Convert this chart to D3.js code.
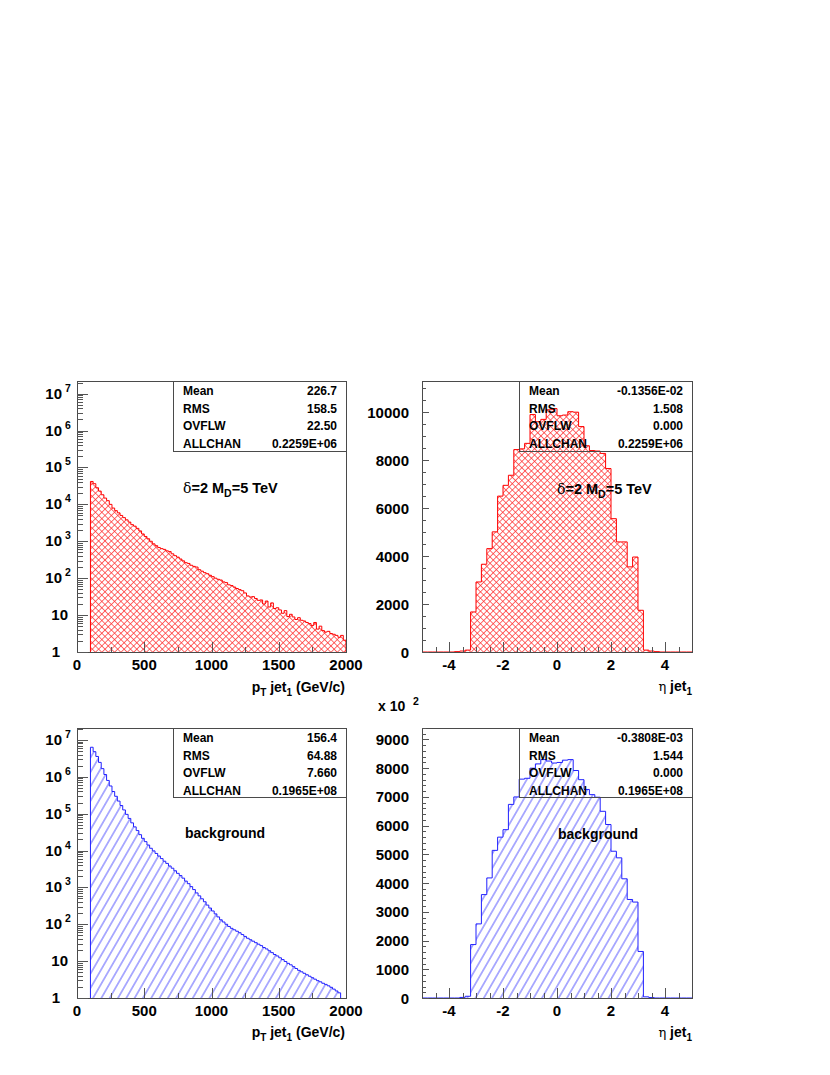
<!DOCTYPE html>
<html><head><meta charset="utf-8">
<script src="https://cdn.jsdelivr.net/npm/d3@7"></script>
<style>
body{margin:0;background:#fff}
text{font-family:"Liberation Sans",Arial,Helvetica,sans-serif;font-weight:bold;fill:#000}
</style>
</head><body>
<svg id="c" width="830" height="1075"></svg>
<script>
// ---------------- DATA ----------------
const ptStart = 100, ptBinWidth = 20;
// signal pT jet1 (delta=2, MD=5 TeV), bins of 20 GeV starting at 100
const sigPt = [41700,36300,28200,22900,18200,14800,12600,10000,7940,6760,
  5890,5010,4370,3800,3310,2820,2570,2240,1910,1580,
  1350,1170,1000,851,759,676,631,603,550,525,
  457,407,372,331,295,263,251,224,209,200,
  170,155,141,132,120,110,100,93.3,89.1,79.4,
  75.9,66.1,63.1,57.5,52.5,49.0,45.7,39.8,33.1,30.9,
  31.6,28.2,25.1,25.7,20.0,24.0,16.6,21.4,15.1,15.8,
  13.8,11.2,13.2,9.12,10.5,8.91,7.59,8.51,7.24,6.92,
  6.31,5.89,5.25,6.31,4.17,5.01,3.80,3.47,3.63,3.16,
  3.02,2.82,2.51,2.82,2.09];
// background pT jet1, bins of 20 GeV starting at 100
const bgPt = [6.31e6,4.79e6,3.55e6,2.45e6,1.66e6,1.15e6,7.94e5,5.62e5,3.98e5,2.95e5,
  2.19e5,1.66e5,1.26e5,9.55e4,7.41e4,5.62e4,4.37e4,3.47e4,2.69e4,2.14e4,
  1.74e4,1.41e4,1.15e4,9770,8320,7080,6030,5130,4470,3800,
  3310,2820,2400,2090,1780,1480,1260,1050,871,708,
  589,490,407,331,275,229,191,158,132,115,
  100,87.1,77.6,70.8,64.6,58.9,52.5,46.8,41.7,38.0,
  34.7,31.6,28.8,26.3,23.4,21.4,19.1,17.0,15.1,13.8,
  12.3,11.0,9.77,8.71,7.94,7.08,6.31,5.62,5.13,4.68,
  4.27,3.89,3.55,3.24,2.95,2.75,2.51,2.34,2.14,1.95,
  1.74,1.55,1.38];
const etaStart = -5, etaBinWidth = 0.2;
// signal eta jet1, 50 bins from -5 to 5
const sigEta = [0,0,0,0,0,0,15,40,80,1670,
  2920,3660,4310,5010,6500,6950,7370,8440,8470,8700,
  9900,9600,9700,10100,10150,9850,9880,10020,10000,9400,
  8600,8400,8380,8280,7650,5560,4590,4590,3550,3960,
  1740,80,40,15,0,0,0,0,0,0];
// background eta jet1, 50 bins from -5 to 5
const bgEta = [0,0,0,0,0,0,0,20,60,1860,
  2580,3600,4180,5140,5600,5860,6740,7000,7620,7650,
  8000,8150,8300,8250,8180,8200,8280,8300,7920,7600,
  7260,7080,6990,6500,6040,5110,4880,4150,3430,3340,
  1620,40,15,0,0,0,0,0,0,0];

const ptTicks = [0,500,1000,1500,2000];
const etaTicks = [-4,-2,0,2,4];
const sigEtaYTicks = [0,2000,4000,6000,8000,10000];
const bgEtaYTicks = [0,1000,2000,3000,4000,5000,6000,7000,8000,9000];
const logDecades = [0,1,2,3,4,5,6,7];

const statNames = ["Mean","RMS","OVFLW","ALLCHAN"];
const sigPtStats = ["226.7","158.5","22.50","0.2259E+06"];
const sigEtaStats = ["-0.1356E-02","1.508","0.000","0.2259E+06"];
const bgPtStats = ["156.4","64.88","7.660","0.1965E+08"];
const bgEtaStats = ["-0.3808E-03","1.544","0.000","0.1965E+08"];

// ---------------- DRAWING ----------------
const svg = d3.select("#c");
const defs = svg.append("defs");
const hs = 4.5;
const xp = defs.append("pattern").attr("id","xhatch").attr("patternUnits","userSpaceOnUse")
  .attr("width",hs).attr("height",hs).attr("patternTransform","rotate(45)");
xp.append("line").attr("x1",hs/2).attr("y1",0).attr("x2",hs/2).attr("y2",hs).attr("stroke","#ff3030").attr("stroke-width",0.7);
xp.append("line").attr("x1",0).attr("y1",hs/2).attr("x2",hs).attr("y2",hs/2).attr("stroke","#ff3030").attr("stroke-width",0.7);
const bp = defs.append("pattern").attr("id","shatch").attr("patternUnits","userSpaceOnUse")
  .attr("width",7.2).attr("height",20).attr("patternTransform","rotate(30)");
bp.append("line").attr("x1",3.6).attr("y1",0).attr("x2",3.6).attr("y2",20).attr("stroke","#3030ff").attr("stroke-width",0.8);

const frameColor = "#4a4a4a";
const labelSize = 15;

function drawHist(g, vals, start, bw, xs, ys, base, fill, stroke){
  const pts = vals.map((v,i)=>[start+i*bw, v]);
  pts.push([start+vals.length*bw, vals[vals.length-1]]);
  const area = d3.area().x(d=>xs(d[0])).y0(base).y1(d=>ys(d[1])).curve(d3.curveStepAfter);
  g.append("path").attr("d", area(pts)).attr("fill", fill).attr("stroke","none");
  const line = d3.line().x(d=>xs(d[0])).y(d=>ys(d[1])).curve(d3.curveStepAfter);
  const d = "M"+xs(start)+","+base+"L"+line(pts).slice(1)+"L"+xs(start+vals.length*bw)+","+base;
  g.append("path").attr("d", d).attr("fill","none").attr("stroke",stroke).attr("stroke-width",1);
}

function drawFrame(f){
  svg.append("rect").attr("x",f.x0+0.5).attr("y",f.y0+0.5).attr("width",f.x1-f.x0).attr("height",f.y1-f.y0)
    .attr("fill","none").attr("stroke",frameColor).attr("stroke-width",1);
}

function tick(x1,y1,x2,y2){
  svg.append("line").attr("x1",x1).attr("y1",y1).attr("x2",x2).attr("y2",y2)
    .attr("stroke","#555").attr("stroke-width",1);
}

function statsBox(f, bx0, by1, values){
  svg.append("rect").attr("x",bx0+0.5).attr("y",f.y0+0.5).attr("width",f.x1-bx0).attr("height",by1-f.y0)
    .attr("fill","none").attr("stroke",frameColor).attr("stroke-width",1);
  statNames.forEach((n,i)=>{
    const y = f.y0+14+i*17.5;
    svg.append("text").attr("x",bx0+10).attr("y",y).attr("font-size",12).text(n);
    svg.append("text").attr("x",f.x1-9).attr("y",y).attr("font-size",12).attr("text-anchor","end").text(values[i]);
  });
}

function logYAxis(f, ys){
  const maxV = ys.domain()[1];
  logDecades.forEach(k=>{
    for(let m=1;m<=9;m++){
      const v = m*Math.pow(10,k);
      if(v>maxV) break;
      const y = Math.round(ys(v))+0.5;
      tick(f.x0, y, f.x0+(m===1?11:6), y);
    }
    const y = ys(Math.pow(10,k));
    if(k===0){
      svg.append("text").attr("x",f.x0-17).attr("y",y+5).attr("font-size",labelSize).attr("text-anchor","end").text("1");
    } else if(k===1){
      svg.append("text").attr("x",f.x0-9).attr("y",y+5).attr("font-size",labelSize).attr("text-anchor","end").text("10");
    } else {
      svg.append("text").attr("x",f.x0-15).attr("y",y+5).attr("font-size",labelSize).attr("text-anchor","end").text("10");
      svg.append("text").attr("x",f.x0-12).attr("y",y-2).attr("font-size",10.5).text(String(k));
    }
  });
}

function linYAxis(f, ys, labels, minorStep){
  const maxV = ys.domain()[1];
  for(let v=0; v<=maxV; v+=minorStep){
    const y = Math.round(ys(v))+0.5;
    const major = labels.includes(v);
    tick(f.x0, y, f.x0+(major?7:4), y);
  }
  labels.forEach(v=>{
    svg.append("text").attr("x",f.x0-13).attr("y",ys(v)+5.5).attr("font-size",labelSize).attr("text-anchor","end").text(String(v));
  });
}

function xAxis(f, xs, labels, step, labelY){
  const [a,b] = xs.domain();
  for(let v=a; v<=b+1e-9; v+=step){
    const x = Math.round(xs(v))+0.5;
    const major = labels.some(l=>Math.abs(l-v)<1e-9);
    if(v===a||Math.abs(v-b)<1e-9) continue;
    tick(x, f.y1, x, f.y1-(major?10:5));
  }
  labels.forEach(v=>{
    svg.append("text").attr("x",xs(v)).attr("y",labelY).attr("font-size",labelSize).attr("text-anchor","middle").text(String(v));
  });
}

function ptTitle(x, y){
  const t = svg.append("text").attr("x",x).attr("y",y).attr("font-size",14).attr("text-anchor","end");
  t.append("tspan").text("p");
  t.append("tspan").attr("font-size",10).attr("dy",4).text("T");
  t.append("tspan").attr("dy",-4).text(" jet");
  t.append("tspan").attr("font-size",10).attr("dy",4).text("1");
  t.append("tspan").attr("dy",-4).text(" (GeV/c)");
}
function etaTitle(x, y){
  const t = svg.append("text").attr("x",x).attr("y",y).attr("font-size",14).attr("text-anchor","end");
  t.append("tspan").attr("font-weight","normal").attr("font-family","DejaVu Serif, serif").attr("font-size",13).text("η");
  t.append("tspan").text(" jet");
  t.append("tspan").attr("font-size",10).attr("dy",4).text("1");
}
function sigLabel(x, y){
  const t = svg.append("text").attr("x",x).attr("y",y).attr("font-size",14.5);
  t.append("tspan").attr("font-weight","normal").attr("font-family","DejaVu Serif, serif").attr("font-size",14).text("δ");
  t.append("tspan").text("=2 M");
  t.append("tspan").attr("font-size",10.5).attr("dy",4).text("D");
  t.append("tspan").attr("dy",-4).text("=5 TeV");
}

// ---- Panel TL: signal pT ----
const fTL = {x0:77,x1:346,y0:381,y1:652};
const xsPt1 = d3.scaleLinear().domain([0,2000]).range([fTL.x0,fTL.x1]);
const ysTL = d3.scaleLog().domain([1,2.2e7]).range([fTL.y1,fTL.y0]);
drawHist(svg, sigPt, ptStart, ptBinWidth, xsPt1, ysTL, fTL.y1, "url(#xhatch)", "#ff0000");
drawFrame(fTL);
logYAxis(fTL, ysTL);
xAxis(fTL, xsPt1, ptTicks, 250, 670);
statsBox(fTL, 173, 451, sigPtStats);
sigLabel(183, 493);
ptTitle(345, 692);

// ---- Panel TR: signal eta ----
const fTR = {x0:422,x1:692,y0:381,y1:652};
const xsEta1 = d3.scaleLinear().domain([-5,5]).range([fTR.x0,fTR.x1]);
const ysTR = d3.scaleLinear().domain([0,11300]).range([fTR.y1,fTR.y0]);
drawHist(svg, sigEta, etaStart, etaBinWidth, xsEta1, ysTR, fTR.y1, "url(#xhatch)", "#ff0000");
drawFrame(fTR);
linYAxis(fTR, ysTR, sigEtaYTicks, 500);
xAxis(fTR, xsEta1, etaTicks, 0.5, 670);
statsBox(fTR, 519, 451, sigEtaStats);
sigLabel(557, 494);
etaTitle(692, 691);

// exponent label
svg.append("text").attr("x",378).attr("y",711).attr("font-size",14).text("x 10");
svg.append("text").attr("x",413).attr("y",705).attr("font-size",10.5).text("2");

// ---- Panel BL: background pT ----
const fBL = {x0:77,x1:346,y0:728,y1:998};
const xsPt2 = d3.scaleLinear().domain([0,2000]).range([fBL.x0,fBL.x1]);
const ysBL = d3.scaleLog().domain([1,2.1e7]).range([fBL.y1,fBL.y0]);
drawHist(svg, bgPt, ptStart, ptBinWidth, xsPt2, ysBL, fBL.y1, "url(#shatch)", "#2020ff");
drawFrame(fBL);
logYAxis(fBL, ysBL);
xAxis(fBL, xsPt2, ptTicks, 250, 1016);
statsBox(fBL, 173, 797, bgPtStats);
svg.append("text").attr("x",185).attr("y",838).attr("font-size",14).text("background");
ptTitle(345, 1037);

// ---- Panel BR: background eta ----
const fBR = {x0:422,x1:692,y0:728,y1:998};
const xsEta2 = d3.scaleLinear().domain([-5,5]).range([fBR.x0,fBR.x1]);
const ysBR = d3.scaleLinear().domain([0,9400]).range([fBR.y1,fBR.y0]);
drawHist(svg, bgEta, etaStart, etaBinWidth, xsEta2, ysBR, fBR.y1, "url(#shatch)", "#2020ff");
drawFrame(fBR);
linYAxis(fBR, ysBR, bgEtaYTicks, 200);
xAxis(fBR, xsEta2, etaTicks, 0.5, 1016);
statsBox(fBR, 519, 797, bgEtaStats);
svg.append("text").attr("x",558).attr("y",839).attr("font-size",14).text("background");
etaTitle(692, 1037);
</script>
</body></html>
